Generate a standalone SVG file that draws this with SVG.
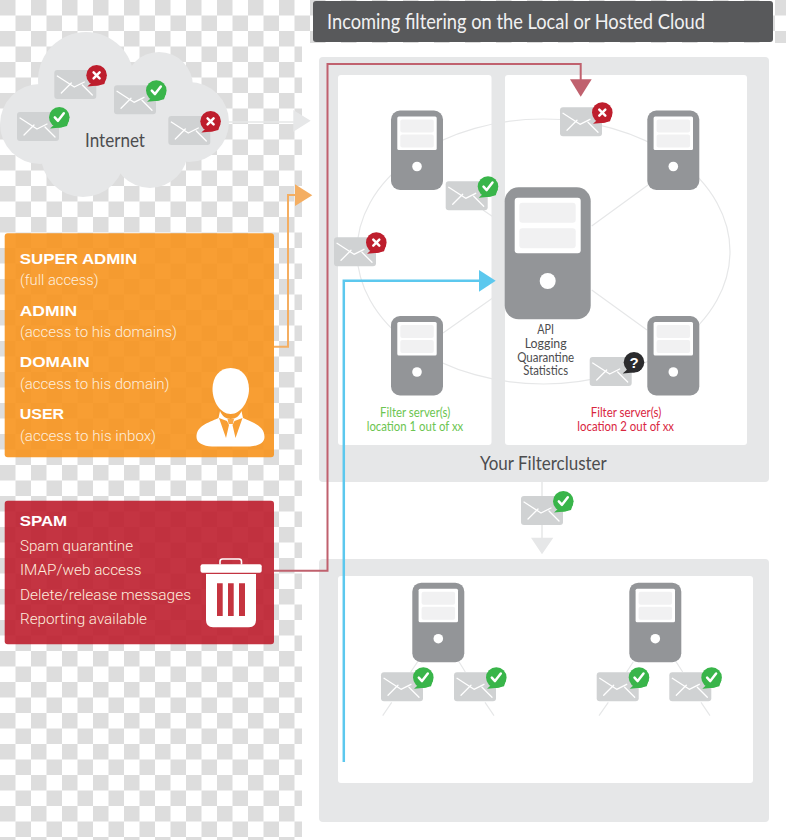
<svg xmlns="http://www.w3.org/2000/svg" xmlns:xlink="http://www.w3.org/1999/xlink" width="786" height="840" viewBox="0 0 786 840">
<style>
.panel{fill:#e6e7e8}
.inner{fill:#fff}
.hair{fill:none;stroke:#e6e7e8;stroke-width:1.2}
.srv{fill:#939598}
.slot{fill:#f1f1f2}
.env{fill:#d0d2d3}
.flap{fill:none;stroke:#fff;stroke-width:1.3;stroke-linecap:round;stroke-linejoin:round}
.mk{fill:none;stroke:#fff;stroke-width:2.5;stroke-linecap:round;stroke-linejoin:round}
.t{font-family:Lato,"Open Sans","Liberation Sans",sans-serif}
.h{font-family:"Liberation Sans",Arial,sans-serif;font-weight:700;fill:#fff;font-size:15.5px}
.s{font-family:Roboto,"Liberation Sans",sans-serif;font-weight:300;fill:#fdeede;font-size:15px}
.d{fill:#4d4d4f}
.c{font-size:12.5px;text-anchor:middle}
</style>
<defs>
<pattern id="chk" width="31" height="31" patternUnits="userSpaceOnUse">
<rect width="31" height="31" fill="#fff"/>
<rect width="15.5" height="15.5" fill="#ddd"/>
<rect x="15.5" y="15.5" width="15.5" height="15.5" fill="#ddd"/>
</pattern>
<g id="server">
<rect class="srv" width="52" height="79.5" rx="9"/>
<rect x="6.3" y="6" width="39.4" height="33.5" rx="1.5" fill="#fff"/>
<rect class="slot" x="9.3" y="9" width="33.5" height="13" rx="2"/>
<rect class="slot" x="9.3" y="24" width="33.5" height="13" rx="2"/>
<circle cx="26" cy="56" r="4.8" fill="#fff"/>
</g>
<g id="envelope">
<rect class="env" width="42" height="29" rx="3"/>
<path class="flap" d="M3 6L20 17L30 12M7 23L17 13M28 15L38 25"/>
</g>
<g id="envX">
<use xlink:href="#envelope" href="#envelope"/>
<path fill="#be1e2d" d="M33 16.500L38 12L42 4L48 4L52 8L50 14L44 15.500Z"/>
<circle cx="42.300" cy="5.300" r="10.300" fill="#be1e2d"/>
<path class="mk" d="M39.300 2.300L45.300 8.300M45.300 2.300L39.300 8.300"/>
</g>
<g id="envOk">
<use xlink:href="#envelope" href="#envelope"/>
<path fill="#39b54a" d="M33 16.500L38 12L42 4L48 4L52 8L50 14L44 15.500Z"/>
<circle cx="42.300" cy="5.300" r="10.300" fill="#39b54a"/>
<path class="mk" d="M37.800 5.300L41 8.800L46.800 1.300"/>
</g>
</defs>

<rect width="786" height="840" fill="url(#chk)"/>
<rect x="302" y="43" width="484" height="797" fill="#fff"/>

<g id="header">
<rect x="313" y="1" width="460" height="41" rx="3" fill="#58595b"/>
<text class="t" x="327" y="28.500" font-size="20.500" fill="#f1f1f2" textLength="378" lengthAdjust="spacingAndGlyphs">Incoming filtering on the Local or Hosted Cloud</text>
</g>

<g id="cluster-panel">
<rect class="panel" x="319" y="57" width="450" height="425" rx="4"/>
<rect class="inner" x="338" y="75" width="153.500" height="370" rx="3"/>
<rect class="inner" x="505" y="75" width="242" height="370" rx="3"/>
<text class="t d" x="480" y="470" font-size="18.500" textLength="126.700" lengthAdjust="spacingAndGlyphs">Your Filtercluster</text>
</g>

<g id="delivery-panel">
<rect class="panel" x="319" y="559" width="450" height="263" rx="4"/>
<rect class="inner" x="338" y="576" width="415" height="207" rx="3"/>
</g>

<g id="connectors">
<ellipse class="hair" cx="543.500" cy="251.500" rx="186.500" ry="132.500"/>
<path class="hair" d="M505 225L483 210M591.700 226L648 185M504 290L443 333M591.700 290L647 330"/>
<path class="hair" d="M417.700 661.700L410.700 672M391.700 702.300L382.700 715.700M459 661.700L465.300 672M485 702.300L494 715.700M633.300 661.700L626.700 672M608.300 702.300L599 715.700M676 661.700L682.700 672M701 702.300L710 715.700"/>
<path fill="none" stroke="#e6e7e8" stroke-width="1.500" d="M229 122H294M542 482V538"/>
<path fill="#e6e7e8" d="M293.300 110L310.700 120.700L293.300 131.700ZM531 537.700H553.300L542 554.300Z"/>
<path fill="none" stroke="#f4ae62" stroke-width="2" d="M274 346.700H288V195H296"/>
<path fill="#f4ae62" d="M295 184.300L312.300 195.300L295 206Z"/>
<path fill="none" stroke="#c0616e" stroke-width="2" d="M274 570.700H327.500V64H580.700V80"/>
<path fill="#c0616e" d="M570 79.300H591.700L580.700 96.700Z"/>
<path fill="none" stroke="#5cc8ee" stroke-width="2.500" d="M343.800 762V280.700H480"/>
<path fill="#5cc8ee" d="M479 270L495.700 280.700L479 291.700Z"/>
</g>

<g id="internet">
<g class="panel">
<circle cx="86" cy="80" r="48"/><circle cx="159" cy="86" r="34"/><circle cx="189" cy="122" r="40"/><circle cx="40" cy="124" r="40"/><circle cx="83" cy="155" r="42"/><circle cx="150" cy="150" r="38"/><rect x="40" y="80" width="150" height="80"/>
</g>
<text class="t d" x="85" y="146.500" font-size="18.500" textLength="60" lengthAdjust="spacingAndGlyphs">Internet</text>
<use xlink:href="#envX" href="#envX" x="54.300" y="70"/>
<use xlink:href="#envOk" href="#envOk" x="114" y="85.300"/>
<use xlink:href="#envOk" href="#envOk" x="17" y="112"/>
<use xlink:href="#envX" href="#envX" x="168.300" y="116"/>
</g>

<g id="roles">
<rect x="4.700" y="233.300" width="269.300" height="224" rx="3" fill="#f7941d" fill-opacity=".9"/>
<text class="h" x="19.700" y="263.500" textLength="117.500" lengthAdjust="spacingAndGlyphs">SUPER ADMIN</text>
<text class="s" x="20" y="285" textLength="78.500" lengthAdjust="spacingAndGlyphs">(full access)</text>
<text class="h" x="19.700" y="315.500" textLength="57.500" lengthAdjust="spacingAndGlyphs">ADMIN</text>
<text class="s" x="20" y="337" textLength="157" lengthAdjust="spacingAndGlyphs">(access to his domains)</text>
<text class="h" x="19.700" y="367.300" textLength="70" lengthAdjust="spacingAndGlyphs">DOMAIN</text>
<text class="s" x="20" y="389" textLength="149.500" lengthAdjust="spacingAndGlyphs">(access to his domain)</text>
<text class="h" x="19.700" y="419" textLength="44.500" lengthAdjust="spacingAndGlyphs">USER</text>
<text class="s" x="20" y="441" textLength="136" lengthAdjust="spacingAndGlyphs">(access to his inbox)</text>
<g id="person-icon">
<path fill="#fff" d="M230.700 368C242 368 249 377 249 389C249 401 241 414 230.700 414C220 414 212.500 401 212.500 389C212.500 377 219.500 368 230.700 368Z"/>
<path fill="#fff" d="M220 411C222 416 226 419 230.700 419C235.500 419 239.500 416 241.500 411L243 418C254 423 264.500 426 264.500 437C264.500 443 258 446 250 446.500H212C203 446 196.500 443 196.500 437C196.500 426 207.500 423 218.500 418Z"/>
<path fill="#f89f34" d="M219 418L226 438L229 425L227 421ZM242.500 418L235.500 438L232.500 425L234.500 421Z"/>
<path fill="#f89f34" d="M227.500 419H234L232.800 424H228.700Z" fill-opacity=".9"/>
</g>
</g>

<g id="spam">
<rect x="4.700" y="500.700" width="269.300" height="143.600" rx="3" fill="#be1e2d" fill-opacity=".9"/>
<text class="h" x="19.700" y="526" textLength="47.500" lengthAdjust="spacingAndGlyphs">SPAM</text>
<text class="s" x="20" y="551" textLength="113" lengthAdjust="spacingAndGlyphs">Spam quarantine</text>
<text class="s" x="20" y="575" textLength="121.500" lengthAdjust="spacingAndGlyphs">IMAP/web access</text>
<text class="s" x="20" y="599.500" textLength="171" lengthAdjust="spacingAndGlyphs">Delete/release messages</text>
<text class="s" x="20" y="624" textLength="127" lengthAdjust="spacingAndGlyphs">Reporting available</text>
<g id="trash-icon">
<path fill="none" stroke="#fff" stroke-width="1.600" d="M220 564.500V561.500Q220 559 222.500 559H239Q241.500 559 241.500 561.500V564.500"/>
<rect x="200.500" y="564.300" width="61.200" height="8.400" rx="2" fill="#fff"/>
<path fill="#fff" d="M206 574H256V620Q256 627.300 249 627.300H213Q206 627.300 206 620Z"/>
<path fill="#c5343f" d="M217 583.300H222.700V616H217ZM228 583.300H233.700V616H228ZM239 583.300H245V616H239Z"/>
</g>
</g>

<g id="node-server-1"><use xlink:href="#server" href="#server" x="391" y="110.500"/></g>
<g id="node-server-2"><use xlink:href="#server" href="#server" x="647.300" y="110.500"/></g>
<g id="node-server-3"><use xlink:href="#server" href="#server" x="391" y="316"/></g>
<g id="node-server-4"><use xlink:href="#server" href="#server" x="647.300" y="316"/></g>
<g id="node-mail-server-1"><use xlink:href="#server" href="#server" x="412.300" y="582.700"/></g>
<g id="node-mail-server-2"><use xlink:href="#server" href="#server" x="629.300" y="582.700"/></g>

<g id="node-central">
<rect class="srv" x="504.700" y="187.300" width="86" height="132" rx="14"/>
<rect x="514.700" y="197.700" width="66" height="55.600" rx="3" fill="#fff"/>
<rect class="slot" x="519.300" y="202.700" width="56.400" height="20" rx="3"/>
<rect class="slot" x="519.300" y="228.300" width="56.400" height="20" rx="3"/>
<circle cx="547.700" cy="281" r="8" fill="#fff"/>
<text class="t d c" x="545.700" y="334" textLength="16.700" lengthAdjust="spacingAndGlyphs">API</text>
<text class="t d c" x="545.700" y="348" textLength="42" lengthAdjust="spacingAndGlyphs">Logging</text>
<text class="t d c" x="545.700" y="361.700" textLength="57" lengthAdjust="spacingAndGlyphs">Quarantine</text>
<text class="t d c" x="545.700" y="375.300" textLength="44.700" lengthAdjust="spacingAndGlyphs">Statistics</text>
</g>

<g id="location-labels">
<text class="t c" fill="#6cc551" x="415.200" y="416.700" textLength="70.300" lengthAdjust="spacingAndGlyphs">Filter server(s)</text>
<text class="t c" fill="#6cc551" x="415" y="430.700" textLength="96.600" lengthAdjust="spacingAndGlyphs">location 1 out of xx</text>
<text class="t c" fill="#d9273f" x="626" y="416.700" textLength="70.600" lengthAdjust="spacingAndGlyphs">Filter server(s)</text>
<text class="t c" fill="#d9273f" x="625.700" y="430.700" textLength="96.700" lengthAdjust="spacingAndGlyphs">location 2 out of xx</text>
</g>

<g id="messages">
<use xlink:href="#envX" href="#envX" x="560" y="107.300"/>
<use xlink:href="#envOk" href="#envOk" x="445.700" y="181.300"/>
<use xlink:href="#envX" href="#envX" x="334" y="237.300"/>
<g transform="translate(589.700 357)">
<use xlink:href="#envelope" href="#envelope"/>
<path fill="#2b2b2d" d="M33 16.500L38 12L42 4L48 4L52 8L50 14L44 15.500Z"/>
<circle cx="44.300" cy="5.300" r="10.300" fill="#2b2b2d"/>
<text x="44.300" y="10.500" font-family="Liberation Sans,Arial,sans-serif" font-weight="700" font-size="15" text-anchor="middle" fill="#fff">?</text>
</g>
<use xlink:href="#envOk" href="#envOk" x="521" y="496"/>
<use xlink:href="#envOk" href="#envOk" x="381" y="672.300"/>
<use xlink:href="#envOk" href="#envOk" x="454" y="672.300"/>
<use xlink:href="#envOk" href="#envOk" x="596.700" y="672.300"/>
<use xlink:href="#envOk" href="#envOk" x="669.300" y="672.300"/>
</g>
</svg>
